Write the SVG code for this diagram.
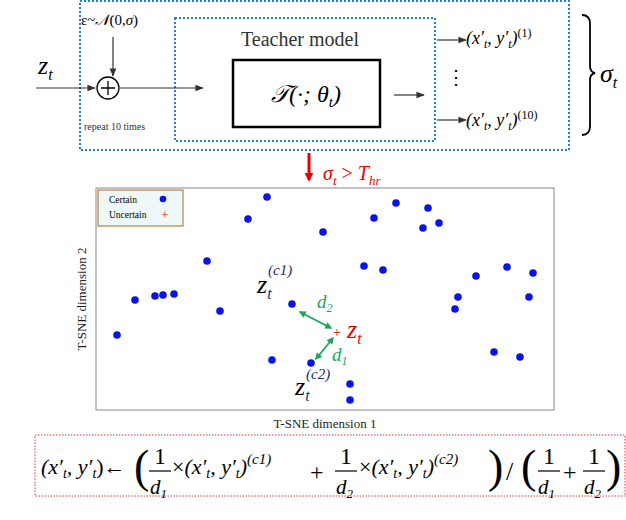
<svg xmlns="http://www.w3.org/2000/svg" width="626" height="520" viewBox="0 0 626 520">
<defs>
<marker id="ah" viewBox="0 0 10 10" refX="9" refY="5" markerWidth="7" markerHeight="7" orient="auto"><path d="M0,1 L10,5 L0,9 z" fill="#333"/></marker>
<marker id="gh" viewBox="0 0 10 10" refX="8" refY="5" markerWidth="4" markerHeight="4" orient="auto-start-reverse"><path d="M0,0 L10,5 L0,10 z" fill="#1aa858"/></marker>
<marker id="rh" viewBox="0 0 10 10" refX="8" refY="5" markerWidth="3" markerHeight="3" orient="auto"><path d="M0,0 L10,5 L0,10 z" fill="#e00"/></marker>
</defs>
<style>
.t{font-family:"Liberation Serif",serif;}
.m{font-family:"Liberation Serif",serif;font-style:italic;}
.dot{fill:#0a14e6;}
.ln{stroke:#333;stroke-width:1.2;fill:none;}
</style>
<rect width="626" height="520" fill="#fff"/>
<g id="outer"><rect x="80" y="1" width="489" height="149" fill="none" stroke="#1f7fd0" stroke-width="2" stroke-dasharray="2,2"/></g>
<g id="inner"><rect x="175" y="18" width="260" height="123" fill="none" stroke="#1f7fd0" stroke-width="2" stroke-dasharray="2,2"/></g>
<g id="teacher">
<text class="t" x="300" y="46" font-size="20" text-anchor="middle" fill="#333">Teacher model</text>
<rect x="233" y="60" width="147" height="67" fill="#fff" stroke="#000" stroke-width="2.5"/>
<text class="m" x="306" y="102" font-size="24" text-anchor="middle">𝒯(·; θ<tspan font-size="15" dy="5">t</tspan><tspan dy="-5">)</tspan></text>
</g>
<g id="inputs">
<text class="m" x="38" y="74" font-size="26">z<tspan font-size="16" dy="6">t</tspan></text>
<text class="t" x="81" y="25" font-size="15">ε~<tspan font-style="italic">𝒩</tspan>(0,<tspan font-style="italic">σ</tspan>)</text>
<circle cx="108" cy="88" r="11" fill="none" stroke="#000" stroke-width="1.3"/>
<path d="M101,88 H115 M108,81 V95" stroke="#000" stroke-width="1.3"/>
<text class="t" x="84" y="130" font-size="10" fill="#333">repeat 10 times</text>
</g>
<g id="outputs">
<text class="m" x="466" y="44" font-size="18">(x′<tspan font-size="12" dy="4">t</tspan><tspan dy="-4">, y′</tspan><tspan font-size="12" dy="4">t</tspan><tspan dy="-4">)</tspan><tspan font-size="12" dy="-7" font-style="normal">(1)</tspan></text>
<text class="t" x="446" y="84" font-size="20">⋮</text>
<text class="m" x="466" y="126" font-size="18">(x′<tspan font-size="12" dy="4">t</tspan><tspan dy="-4">, y′</tspan><tspan font-size="12" dy="4">t</tspan><tspan dy="-4">)</tspan><tspan font-size="12" dy="-7" font-style="normal">(10)</tspan></text>
<path d="M582,15 Q590,15 590,24 V66 Q590,72 595,73 Q590,74 590,80 V126 Q590,135 582,135" fill="none" stroke="#000" stroke-width="1.8"/>
<text class="m" x="600" y="82" font-size="26">σ<tspan font-size="16" dy="6">t</tspan></text>
</g>
<text class="m" x="323" y="180" font-size="20" fill="#e00">σ<tspan font-size="13" dy="5">t</tspan><tspan dy="-5" font-style="normal"> &gt; </tspan>T<tspan font-size="13" dy="5">hr</tspan></text>
<g id="plot">
<rect x="96" y="188" width="458" height="222" fill="#fff" stroke="#888" stroke-width="1"/>
<rect x="98" y="190" width="85" height="36" fill="#eef8f8" stroke="#b5651d" stroke-width="1"/>
<text class="t" x="109" y="203" font-size="9.5">Certain</text>
<circle cx="163" cy="199" r="3.3" class="dot"/>
<text class="t" x="109" y="218" font-size="9.5">Uncertain</text>
<text class="t" x="165" y="219" font-size="12" fill="#e00" text-anchor="middle">+</text>
<g class="dot">
<circle cx="267" cy="197" r="3.8"/><circle cx="248" cy="219" r="3.8"/><circle cx="323" cy="232" r="3.8"/><circle cx="374" cy="218" r="3.8"/><circle cx="396" cy="203" r="3.8"/><circle cx="428" cy="208" r="3.8"/><circle cx="423" cy="228" r="3.8"/><circle cx="439" cy="223" r="3.8"/><circle cx="207" cy="261" r="3.8"/><circle cx="364" cy="266" r="3.8"/><circle cx="383" cy="270" r="3.8"/><circle cx="476" cy="276" r="3.8"/><circle cx="507" cy="267" r="3.8"/><circle cx="533" cy="273" r="3.8"/><circle cx="135" cy="300" r="3.8"/><circle cx="155" cy="296" r="3.8"/><circle cx="163" cy="295" r="3.8"/><circle cx="174" cy="294" r="3.8"/><circle cx="220" cy="311" r="3.8"/><circle cx="292" cy="304" r="3.8"/><circle cx="458" cy="297" r="3.8"/><circle cx="455" cy="309" r="3.8"/><circle cx="529" cy="297" r="3.8"/><circle cx="117" cy="335" r="3.8"/><circle cx="272" cy="360" r="3.8"/><circle cx="311" cy="363" r="3.8"/><circle cx="350" cy="384" r="3.8"/><circle cx="350" cy="400" r="3.8"/><circle cx="494" cy="352" r="3.8"/><circle cx="520" cy="357" r="3.8"/>
</g>
<text class="t" x="337" y="337" font-size="14" fill="#e00" text-anchor="middle">+</text>
<text class="m" x="347" y="338" font-size="26" fill="#e00">z<tspan font-size="16" dy="6">t</tspan></text>
<text class="m" x="257" y="293" font-size="26">z<tspan font-size="16" dy="6" fill="#1a2a6a">t</tspan></text>
<text class="m" x="268" y="275" font-size="15" fill="#1a2a6a">(c1)</text>
<text class="m" x="295" y="395" font-size="26">z<tspan font-size="16" dy="6" fill="#1a2a6a">t</tspan></text>
<text class="m" x="306" y="379" font-size="15" fill="#1a2a6a">(c2)</text>
<text class="m" x="317" y="308" font-size="19" fill="#1aa858">d<tspan font-size="12" dy="4">2</tspan></text>
<text class="m" x="332" y="361" font-size="19" fill="#1aa858">d<tspan font-size="12" dy="4">1</tspan></text>
<text class="t" x="325" y="428" font-size="13" text-anchor="middle" fill="#222">T-SNE dimension 1</text>
<text class="t" x="86" y="299" font-size="13" text-anchor="middle" fill="#222" transform="rotate(-90 86 299)">T-SNE dimension 2</text>
</g>
<g id="connectors">
<path class="ln" d="M36,88 H95" marker-end="url(#ah)"/>
<path class="ln" d="M113,37 V76" marker-end="url(#ah)"/>
<path class="ln" d="M120,88 H203" marker-end="url(#ah)"/>
<path class="ln" d="M394,95 H424" marker-end="url(#ah)"/>
<path class="ln" d="M437,40 H466" marker-end="url(#ah)"/>
<path class="ln" d="M437,120 H466" marker-end="url(#ah)"/>
<path d="M309,153 V180" stroke="#e00" stroke-width="3" marker-end="url(#rh)"/>
<path d="M300,312 L331,328" stroke="#1aa858" stroke-width="1.8" marker-start="url(#gh)" marker-end="url(#gh)"/>
<path d="M316,359 L333,338" stroke="#1aa858" stroke-width="1.8" marker-start="url(#gh)" marker-end="url(#gh)"/>
</g>
<g id="formula">
<rect x="35" y="435" width="590" height="61" fill="none" stroke="#e33" stroke-width="1" stroke-dasharray="1.5,1.5"/>
<text class="m" font-size="22" y="474"><tspan x="41">(x′</tspan><tspan font-size="14" dy="4">t</tspan><tspan dy="-4">, y′</tspan><tspan font-size="14" dy="4">t</tspan><tspan dy="-4" font-style="normal">)←</tspan></text>
<text class="t" x="134" y="482" font-size="46">(</text>
<text class="t" x="160" y="464" font-size="24" text-anchor="middle">1</text>
<line x1="149" y1="471" x2="171" y2="471" stroke="#000" stroke-width="1.2"/>
<text class="m" x="150" y="494" font-size="21">d<tspan font-size="13" dy="4">1</tspan></text>
<text class="m" font-size="22" y="474"><tspan x="172" font-style="normal">×</tspan>(x′<tspan font-size="14" dy="4">t</tspan><tspan dy="-4">, y′</tspan><tspan font-size="14" dy="4">t</tspan><tspan dy="-4">)</tspan><tspan font-size="15" dy="-10">(c1)</tspan></text>
<text class="t" x="310" y="480" font-size="24">+</text>
<text class="t" x="346" y="464" font-size="24" text-anchor="middle">1</text>
<line x1="335" y1="471" x2="357" y2="471" stroke="#000" stroke-width="1.2"/>
<text class="m" x="336" y="494" font-size="21">d<tspan font-size="13" dy="4">2</tspan></text>
<text class="m" font-size="22" y="474"><tspan x="359" font-style="normal">×</tspan>(x′<tspan font-size="14" dy="4">t</tspan><tspan dy="-4">, y′</tspan><tspan font-size="14" dy="4">t</tspan><tspan dy="-4">)</tspan><tspan font-size="15" dy="-10">(c2)</tspan></text>
<text class="t" x="488" y="482" font-size="46">)</text>
<text class="t" x="506" y="480" font-size="26">/</text>
<text class="t" x="521" y="482" font-size="46">(</text>
<text class="t" x="549" y="464" font-size="24" text-anchor="middle">1</text>
<line x1="538" y1="471" x2="560" y2="471" stroke="#000" stroke-width="1.2"/>
<text class="m" x="538" y="494" font-size="21">d<tspan font-size="13" dy="4">1</tspan></text>
<text class="t" x="563" y="480" font-size="24">+</text>
<text class="t" x="594" y="464" font-size="24" text-anchor="middle">1</text>
<line x1="583" y1="471" x2="605" y2="471" stroke="#000" stroke-width="1.2"/>
<text class="m" x="584" y="494" font-size="21">d<tspan font-size="13" dy="4">2</tspan></text>
<text class="t" x="606" y="482" font-size="46">)</text>
</g>
</svg>
